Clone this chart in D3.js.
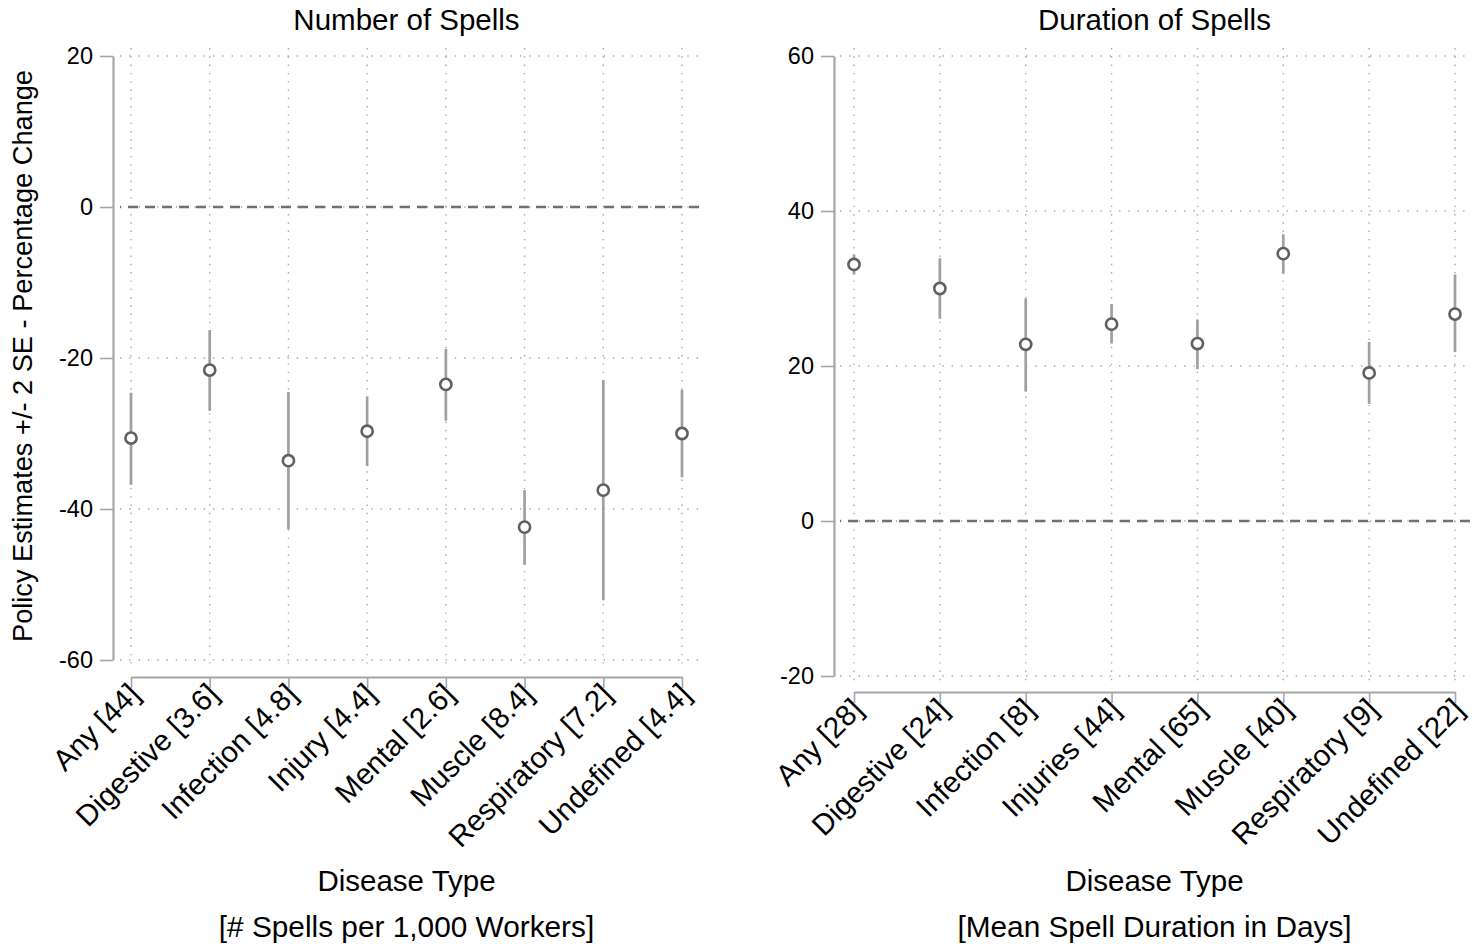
<!DOCTYPE html>
<html>
<head>
<meta charset="utf-8">
<script src="https://cdn.jsdelivr.net/npm/d3@7"></script>
<style>
  html, body { margin: 0; padding: 0; background: #fff; }
  svg { display: block; font-family: "Liberation Sans", Arial, sans-serif; }
</style>
</head>
<body>
<svg id="chart" width="1474" height="944"></svg>
<script>
// ---------------- DATA ----------------
const leftCategories = ["Any [44]", "Digestive [3.6]", "Infection [4.8]", "Injury [4.4]", "Mental [2.6]", "Muscle [8.4]", "Respiratory [7.2]", "Undefined [4.4]"];
const leftEstimates = [-30.6, -21.6, -33.6, -29.7, -23.5, -42.4, -37.5, -30.0];
const leftLower = [-36.8, -27.0, -42.7, -34.3, -28.3, -47.4, -52.1, -35.8];
const leftUpper = [-24.6, -16.3, -24.5, -25.1, -18.8, -37.5, -22.9, -24.2];
const leftTicks = [-60, -40, -20, 0, 20];

const rightCategories = ["Any [28]", "Digestive [24]", "Infection [8]", "Injuries [44]", "Mental [65]", "Muscle [40]", "Respiratory [9]", "Undefined [22]"];
const rightEstimates = [33.1, 30.0, 22.8, 25.4, 22.9, 34.5, 19.1, 26.7];
const rightLower = [31.8, 26.1, 16.7, 22.9, 19.6, 31.9, 15.1, 21.8];
const rightUpper = [34.4, 33.9, 28.7, 28.0, 26.0, 37.0, 23.1, 31.8];
const rightTicks = [-20, 0, 20, 40, 60];

const leftTitle = "Number of Spells";
const rightTitle = "Duration of Spells";
const xTitle = "Disease Type";
const leftSubtitle = "[# Spells per 1,000 Workers]";
const rightSubtitle = "[Mean Spell Duration in Days]";
const yTitle = "Policy Estimates +/- 2 SE - Percentage Change";

// ---------------- DRAW ----------------
const svg = d3.select("#chart");
svg.append("rect").attr("width", 1474).attr("height", 944).attr("fill", "#fff");

const AXIS = "#a6a6a6", GRID = "#a8a8a8", CI = "#a0a0a0", MARK = "#606060", ZERO = "#707070";
const FONT = "Liberation Sans, Arial, sans-serif";

function panel(cfg) {
  const g = svg.append("g");
  const y = d3.scaleLinear().domain([cfg.ticks[0], cfg.ticks[cfg.ticks.length - 1]]).range([cfg.yBottom, cfg.yTop]);
  const x = d3.scalePoint().domain(cfg.cats).range([cfg.xFirst, cfg.xLast]);

  // grid: horizontal
  g.append("g").selectAll("line").data(cfg.ticks).join("line")
    .attr("x1", cfg.plotL).attr("x2", cfg.plotR)
    .attr("y1", d => y(d)).attr("y2", d => y(d))
    .attr("stroke", GRID).attr("stroke-width", 1.4).attr("stroke-dasharray", "1.4,7.9");
  // grid: vertical
  g.append("g").selectAll("line").data(cfg.cats).join("line")
    .attr("x1", d => x(d)).attr("x2", d => x(d))
    .attr("y1", cfg.plotT).attr("y2", cfg.plotB)
    .attr("stroke", GRID).attr("stroke-width", 1.4).attr("stroke-dasharray", "1.4,6.9");

  // zero reference line
  g.append("line")
    .attr("x1", cfg.plotL).attr("x2", cfg.plotR)
    .attr("y1", y(0)).attr("y2", y(0))
    .attr("stroke", ZERO).attr("stroke-width", 2.4).attr("stroke-dasharray", "10,7")
    .attr("stroke-dashoffset", -8);

  // y axis
  const ya = g.append("g").attr("transform", `translate(${cfg.yAxisX},0)`)
    .call(d3.axisLeft(y).tickValues(cfg.ticks).tickSize(13).tickSizeOuter(0).tickPadding(7).tickFormat(d => String(d)));
  ya.select(".domain").attr("stroke", AXIS).attr("stroke-width", 2.2);
  ya.selectAll(".tick line").attr("stroke", AXIS).attr("stroke-width", 1.6);
  ya.selectAll(".tick text").attr("font-size", 23.5).attr("fill", "#000").attr("font-family", FONT);

  // x axis
  const xa = g.append("g").attr("transform", `translate(0,${cfg.xAxisY})`)
    .call(d3.axisBottom(x).tickSize(11).tickSizeOuter(0));
  xa.select(".domain").attr("stroke", AXIS).attr("stroke-width", 2.2);
  xa.selectAll(".tick line").attr("stroke", AXIS).attr("stroke-width", 1.6);
  xa.selectAll(".tick text")
    .attr("font-size", 29.5).attr("fill", "#000").attr("font-family", FONT)
    .attr("text-anchor", "end").attr("dy", null).attr("y", null)
    .attr("transform", "translate(10,19) rotate(-45)");

  // CI lines
  g.append("g").selectAll("line").data(cfg.cats).join("line")
    .attr("x1", d => x(d)).attr("x2", d => x(d))
    .attr("y1", (d, i) => y(cfg.lower[i])).attr("y2", (d, i) => y(cfg.upper[i]))
    .attr("stroke", CI).attr("stroke-width", 2.7);
  // markers
  g.append("g").selectAll("circle").data(cfg.cats).join("circle")
    .attr("cx", d => x(d)).attr("cy", (d, i) => y(cfg.est[i]))
    .attr("r", 5.6).attr("fill", "#fff").attr("stroke", MARK).attr("stroke-width", 2.6);

  // titles
  const cx = (cfg.xFirst + cfg.xLast) / 2;
  g.append("text").attr("x", cx).attr("y", 30).attr("text-anchor", "middle")
    .attr("font-size", 29.5).text(cfg.title);
  g.append("text").attr("x", cx).attr("y", 891).attr("text-anchor", "middle")
    .attr("font-size", 29.5).text(xTitle);
  g.append("text").attr("x", cx).attr("y", 937).attr("text-anchor", "middle")
    .attr("font-size", 29.8).text(cfg.subtitle);
}

panel({
  cats: leftCategories, est: leftEstimates, lower: leftLower, upper: leftUpper, ticks: leftTicks,
  title: leftTitle, subtitle: leftSubtitle,
  yTop: 56, yBottom: 660, xFirst: 131, xLast: 682,
  yAxisX: 113, xAxisY: 677,
  plotL: 120, plotR: 700, plotT: 48, plotB: 668
});
panel({
  cats: rightCategories, est: rightEstimates, lower: rightLower, upper: rightUpper, ticks: rightTicks,
  title: rightTitle, subtitle: rightSubtitle,
  yTop: 56, yBottom: 676, xFirst: 854, xLast: 1455,
  yAxisX: 834, xAxisY: 692,
  plotL: 840, plotR: 1472, plotT: 48, plotB: 684
});

// y title
svg.append("text")
  .attr("transform", "translate(32,356) rotate(-90)")
  .attr("text-anchor", "middle").attr("font-size", 27.2).text(yTitle);
</script>
</body>
</html>
